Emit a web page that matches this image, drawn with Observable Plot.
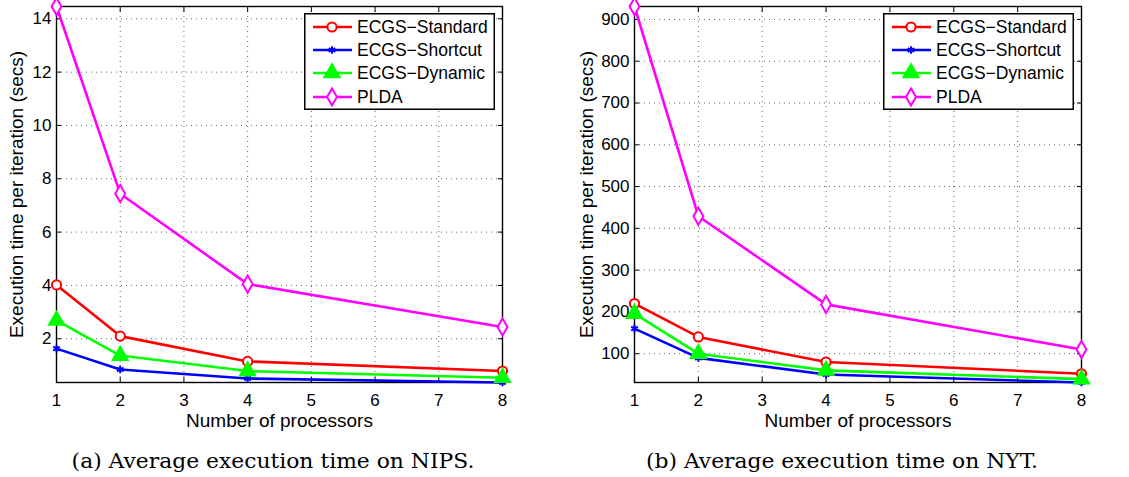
<!DOCTYPE html>
<html><head><meta charset="utf-8">
<script src="https://cdn.jsdelivr.net/npm/d3@7"></script>
<script src="https://cdn.jsdelivr.net/npm/@observablehq/plot@0.6"></script>
<style>
body{margin:0;background:#fff;}
#root{position:relative;width:1129px;height:477px;overflow:hidden;background:#fff;}
.panel{position:absolute;top:0;}
.cap{position:absolute;font-family:"DejaVu Serif",serif;font-size:20.5px;line-height:20px;white-space:nowrap;transform:translateX(-50%) scaleX(1.065);color:#000;}
.legend{position:absolute;}
</style></head><body><div id="root"></div>
<script>
// ---- data ----
const processors = [1, 2, 4, 8];
const seriesNames = ["ECGS−Standard", "ECGS−Shortcut", "ECGS−Dynamic", "PLDA"];
const nipsStandard = [4.02, 2.10, 1.15, 0.79];
const nipsShortcut = [1.63, 0.85, 0.51, 0.36];
const nipsDynamic  = [2.69, 1.37, 0.79, 0.54];
const nipsPLDA     = [14.46, 7.44, 4.05, 2.44];
const nytStandard  = [220, 140, 80, 52];
const nytShortcut  = [160, 90, 50, 31];
const nytDynamic   = [196, 100, 60, 39];
const nytPLDA      = [931, 429, 218, 110];
const xTicks = [1, 2, 3, 4, 5, 6, 7, 8];
const nipsYTicks = [2, 4, 6, 8, 10, 12, 14];
const nytYTicks = [100, 200, 300, 400, 500, 600, 700, 800, 900];
const xLabel = "Number of processors";
const yLabel = "Execution time per iteration (secs)";
const captions = ["(a) Average execution time on NIPS.", "(b) Average execution time on NYT."];

// ---- styles ----
const colors = ["#ff0000", "#0000ff", "#00ff00", "#ff00ff"];
const symbols = ["circle", "asterisk", "triangle", "diamond"];
const d3symbols = [d3.symbolCircle, d3.symbolAsterisk, d3.symbolTriangle, d3.symbolDiamond];
const fills = ["white", "none", "#00ff00", "white"];
const radii = [4.6, 3.6, 5.6, 5.2];
const FONT = '"Liberation Sans", Arial, Helvetica, sans-serif';

function toRows(arrs) {
  const rows = [];
  arrs.forEach((vals, i) => vals.forEach((v, j) => rows.push({series: seriesNames[i], x: processors[j], y: v})));
  return rows;
}

function panel(rows, yTicks, o) {
  const gridStyle = {stroke: "#000", strokeOpacity: 0.6, strokeDasharray: "1,4"};
  const marks = [
    Plot.gridX(xTicks, gridStyle),
    Plot.gridY(yTicks, gridStyle),
    Plot.axisX(xTicks, {anchor: "bottom", tickSize: -5, tickPadding: 16, label: null, fontSize: 17}),
    Plot.axisX(xTicks, {anchor: "top", tickSize: -5, text: null, label: null}),
    Plot.axisY(yTicks, {anchor: "left", tickSize: -5, tickPadding: 10, label: null, fontSize: 17}),
    Plot.axisY(yTicks, {anchor: "right", tickSize: -5, text: null, label: null}),
    Plot.frame({stroke: "#000", strokeWidth: 1.4}),
    Plot.line(rows, {x: "x", y: "y", z: "series", stroke: "series", strokeWidth: 2.6})
  ];
  seriesNames.forEach((s, i) => {
    marks.push(Plot.dot(rows.filter(d => d.series === s), {
      x: "x", y: "y", symbol: symbols[i], r: radii[i],
      stroke: colors[i], fill: fills[i], strokeWidth: 2
    }));
  });
  marks.push(Plot.text([xLabel], {frameAnchor: "bottom", dy: 38, fontSize: 19, fill: "#000", lineAnchor: "middle", textAnchor: "middle"}));
  marks.push(Plot.text([yLabel], {frameAnchor: "left", dx: o.ylabDx, rotate: -90, fontSize: 19, fill: "#000", lineAnchor: "middle", textAnchor: "middle"}));
  return Plot.plot({
    width: o.width, height: 440,
    marginLeft: o.ml, marginRight: o.mr, marginTop: 6, marginBottom: 58,
    style: {fontFamily: FONT, fontSize: "17px", background: "white", color: "#000", overflow: "visible"},
    x: {domain: [1, 8]},
    y: {domain: d3.extent(rows, d => d.y)},
    color: {domain: seriesNames, range: colors},
    marks
  });
}

function legend(left) {
  const w = 191, h = 97;
  const svg = d3.create("svg").attr("width", w).attr("height", h).attr("class", "legend")
    .style("left", left + "px").style("top", "13px");
  svg.append("rect").attr("x", 0.75).attr("y", 0.75).attr("width", w - 1.5).attr("height", h - 1.5)
    .attr("fill", "white").attr("stroke", "black").attr("stroke-width", 1.5);
  const rowsY = [14, 37, 60, 84];
  seriesNames.forEach((s, i) => {
    const y = rowsY[i];
    svg.append("line").attr("x1", 9).attr("x2", 48).attr("y1", y).attr("y2", y)
      .attr("stroke", colors[i]).attr("stroke-width", 2.6);
    svg.append("path").attr("transform", `translate(28,${y})`)
      .attr("d", d3.symbol(d3symbols[i], Math.PI * radii[i] * radii[i])())
      .attr("fill", fills[i]).attr("stroke", colors[i]).attr("stroke-width", 2);
    svg.append("text").attr("x", 53).attr("y", y + 6).text(s)
      .attr("font-family", FONT).attr("font-size", 17.5).attr("fill", "#000");
  });
  return svg.node();
}

const root = document.getElementById("root");
const p1 = panel(toRows([nipsStandard, nipsShortcut, nipsDynamic, nipsPLDA]), nipsYTicks, {width: 565, ml: 56, mr: 63, ylabDx: -40});
p1.classList.add("panel"); p1.style.left = "0px";
root.appendChild(p1);
const p2 = panel(toRows([nytStandard, nytShortcut, nytDynamic, nytPLDA]), nytYTicks, {width: 564, ml: 69, mr: 48, ylabDx: -48});
p2.classList.add("panel"); p2.style.left = "565px";
root.appendChild(p2);
root.appendChild(legend(304));
root.appendChild(legend(883));
[273, 842].forEach((cx, i) => {
  const d = document.createElement("div");
  d.className = "cap"; d.style.left = cx + "px"; d.style.top = "451px";
  d.textContent = captions[i];
  root.appendChild(d);
});
</script></body></html>
